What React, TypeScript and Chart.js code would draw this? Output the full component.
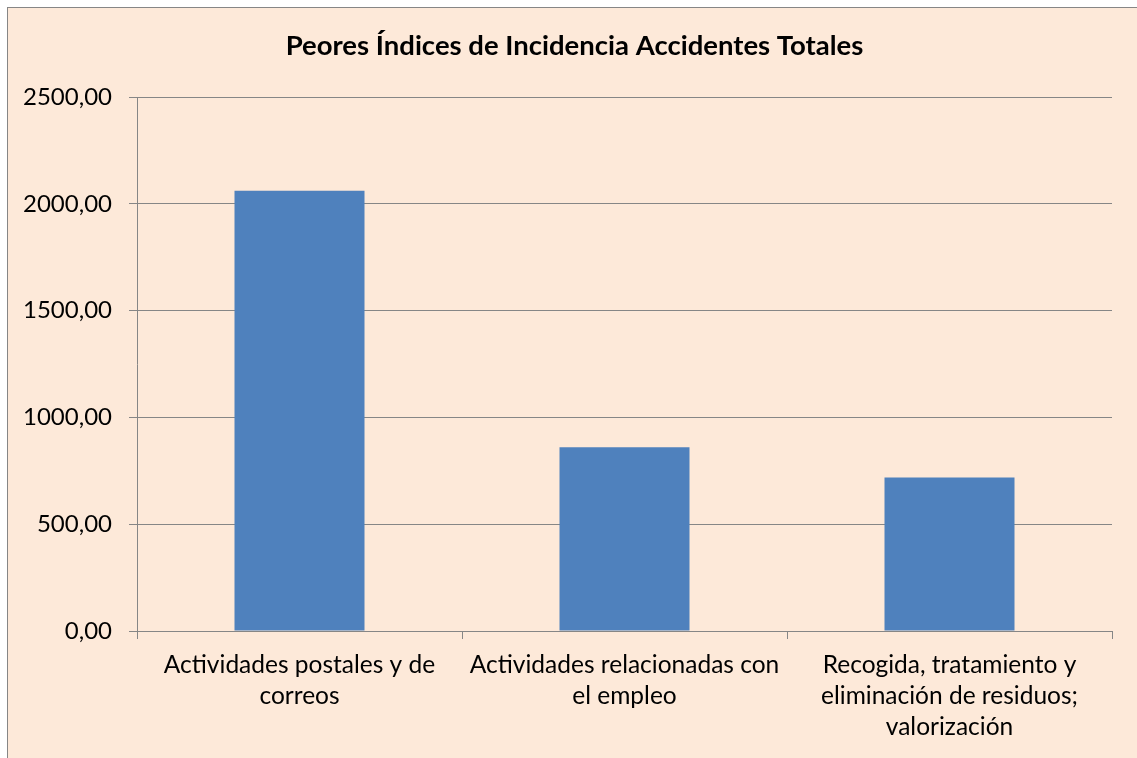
import React, { useEffect, useRef } from "react";
import { Chart, registerables } from "chart.js";
Chart.register(...registerables);

const categories: string[][] = [
  ["Actividades postales y de", "correos"],
  ["Actividades relacionadas con", "el empleo"],
  ["Recogida, tratamiento y", "eliminación de residuos;", "valorización"],
];
const values: number[] = [2061, 860, 719];
const yTicks: number[] = [0, 500, 1000, 1500, 2000, 2500];
const chartTitle = "Peores Índices de Incidencia Accidentes Totales";

const FONT = "Lato";
const GRID = "#868686";

export default function App() {
  const ref = useRef<HTMLCanvasElement>(null);
  useEffect(() => {
    document.body.style.overflow = "hidden";
    const chart = new Chart(ref.current!, {
      type: "bar",
      data: {
        labels: categories,
        datasets: [
          {
            data: values,
            backgroundColor: "#4F81BD",
            borderWidth: 0,
            barPercentage: 0.4,
            categoryPercentage: 1,
            yAxisID: "y",
          },
        ],
      },
      options: {
        animation: false,
        responsive: false,
        maintainAspectRatio: false,
        layout: { padding: { left: 4, right: 0, top: 0, bottom: 4 } },
        plugins: {
          legend: { display: false },
          tooltip: { enabled: false },
          title: {
            display: true,
            text: chartTitle,
            color: "#000",
            font: { family: FONT, size: 27.5, weight: "bold", lineHeight: 1.2 },
            padding: { top: 22, bottom: 34 },
          },
        },
        scales: {
          x: {
            grid: {
              display: true,
              drawOnChartArea: false,
              drawTicks: true,
              tickLength: 8,
              color: GRID,
              offset: true,
            },
            border: { color: GRID, width: 1 },
            ticks: {
              color: "#000",
              font: { family: FONT, size: 24.5, lineHeight: 1.265 },
              padding: 11,
              maxRotation: 0,
              autoSkip: false,
            },
          },
          y: {
            min: 0,
            max: 2500,
            afterBuildTicks: (s: any) => {
              s.ticks = yTicks.map((v) => ({ value: v }));
            },
            afterFit: (s: any) => {
              s.width = 125;
            },
            grid: { color: GRID, tickLength: 8 },
            border: { color: GRID },
            ticks: {
              color: "#000",
              font: { family: FONT, size: 24 },
              padding: 17,
              callback: (v: any) => Number(v).toFixed(2).replace(".", ","),
            },
          },
          yRight: {
            position: "right",
            min: 0,
            max: 2500,
            grid: { display: false, drawTicks: false },
            border: { display: false },
            ticks: { display: false },
            afterFit: (s: any) => {
              s.width = 25;
            },
          },
        },
      },
    });
    return () => chart.destroy();
  }, []);
  return (
    <div
      style={{
        position: "absolute",
        left: 7,
        top: 7,
        width: 1129,
        height: 750,
        background: "#FDE9D9",
        borderLeft: "1px solid " + GRID,
        borderTop: "1px solid " + GRID,
      }}
    >
      <canvas ref={ref} width={1129} height={750} style={{ display: "block" }} />
    </div>
  );
}
